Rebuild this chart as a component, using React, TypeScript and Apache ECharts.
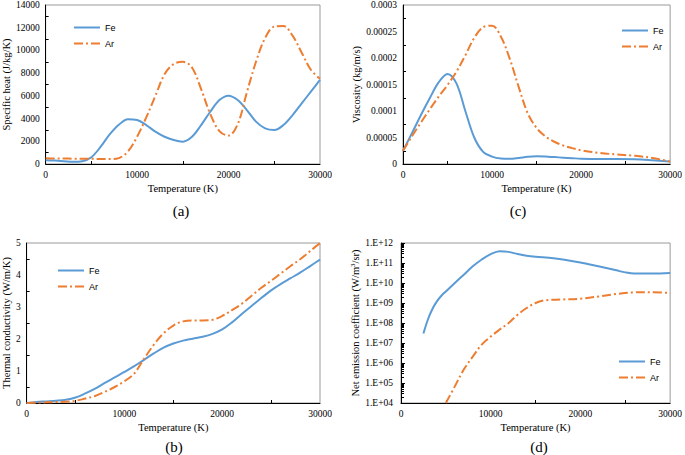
import React, { useEffect, useRef } from "react";
import * as echarts from "echarts";

// ---------- data ----------
const tGrid = [0, 1000, 2000, 3000, 4000, 5000, 6000, 7000, 8000, 9000, 10000, 11000, 12000, 13000, 14000, 15000, 16000, 17000, 18000, 19000, 20000, 21000, 22000, 23000, 24000, 25000, 26000, 27000, 28000, 29000, 30000];

// (a) specific heat (J/kg/K)
const cpFe = [330, 300, 250, 200, 250, 600, 1500, 2600, 3450, 3950, 3880, 3430, 2850, 2400, 2110, 1970, 2400, 3430, 4600, 5630, 6020, 5630, 4750, 3730, 3140, 2990, 3430, 4310, 5340, 6370, 7400];
const cpAr = [500, 490, 480, 470, 470, 460, 440, 430, 520, 1100, 2400, 4100, 6000, 7900, 8800, 9000, 8500, 6600, 4400, 2900, 2500, 3500, 6300, 9000, 11100, 12100, 12150, 11300, 9800, 8300, 7500];

// (b) thermal conductivity (W/m/K)
const kFe = [0, 0.03, 0.05, 0.07, 0.1, 0.17, 0.3, 0.45, 0.63, 0.8, 0.97, 1.15, 1.35, 1.55, 1.73, 1.86, 1.95, 2.01, 2.07, 2.16, 2.3, 2.52, 2.78, 3.03, 3.28, 3.52, 3.72, 3.9, 4.08, 4.28, 4.48];
const kAr = [0, 0.01, 0.02, 0.03, 0.04, 0.07, 0.14, 0.22, 0.35, 0.5, 0.68, 0.92, 1.38, 1.82, 2.18, 2.42, 2.55, 2.58, 2.58, 2.6, 2.72, 2.9, 3.1, 3.35, 3.6, 3.82, 4.05, 4.28, 4.5, 4.75, 5.0];

// (c) viscosity (kg/m/s)
const viscT = [0, 1000, 2000, 3000, 4000, 5000, 6000, 7000, 8000, 9000, 10000, 11000, 12000, 13000, 14000, 15000, 16000, 17000, 18000, 19000, 20000, 22000, 24000, 26000, 28000, 30000];
const muFe = [2.5e-5, 5.8e-5, 9.2e-5, 1.24e-4, 1.54e-4, 1.7e-4, 1.52e-4, 1.0e-4, 5.0e-5, 2.3e-5, 1.4e-5, 1.05e-5, 1.0e-5, 1.15e-5, 1.35e-5, 1.45e-5, 1.4e-5, 1.3e-5, 1.2e-5, 1.1e-5, 1.0e-5, 9.5e-6, 9.5e-6, 9.0e-6, 7.0e-6, 4.5e-6];
const muAr = [2.5e-5, 5.2e-5, 7.8e-5, 1.03e-4, 1.27e-4, 1.49e-4, 1.74e-4, 2.05e-4, 2.38e-4, 2.58e-4, 2.61e-4, 2.4e-4, 1.98e-4, 1.45e-4, 9.6e-5, 6.8e-5, 5.2e-5, 4.2e-5, 3.5e-5, 3.0e-5, 2.6e-5, 2.1e-5, 1.8e-5, 1.55e-5, 1.15e-5, 4.5e-6];

// (d) net emission coefficient (W/m3/sr)
const necFeT = [2500, 3000, 3500, 4000, 4500, 5000, 6000, 7000, 8000, 9000, 10000, 11000, 12000, 13000, 14000, 15000, 17000, 20000, 22000, 24000, 25000, 26000, 28000, 30000];
const necFe = [3e7, 1.5e8, 5e8, 1.2e9, 2.3e9, 3.8e9, 1e10, 2.6e10, 6.8e10, 1.5e11, 2.8e11, 3.9e11, 3.6e11, 2.8e11, 2.3e11, 2.05e11, 1.75e11, 1.07e11, 6.8e10, 4.3e10, 3.4e10, 3.0e10, 3.0e10, 3.2e10];
const necArT = [5000, 6000, 7000, 8000, 9000, 10000, 11000, 12000, 13000, 14000, 15000, 16000, 18000, 20000, 22000, 24000, 26000, 28000, 30000];
const necAr = [1e4, 6.8e4, 4.7e5, 2.1e6, 8.3e6, 2.1e7, 4.7e7, 1e8, 2.6e8, 5.6e8, 1e9, 1.35e9, 1.5e9, 1.65e9, 2.1e9, 2.8e9, 3.4e9, 3.4e9, 3.2e9];

const xTicks = { min: 0, max: 30000, interval: 10000 };
const panelLabels = ["(a)", "(b)", "(c)", "(d)"];
const seriesNames = ["Fe", "Ar"];

// ---------- styling ----------
const SERIF = "Liberation Serif";
const SANS = "Liberation Sans";
const BLUE = "#5B9BD5";
const ORANGE = "#ED7D31";
const AR_DASH = [9, 3, 2, 3];

const zip = (xs: number[], ys: number[]) => xs.map((x, i) => [x, ys[i]]);
const plain = (v: number) => String(parseFloat(Number(v).toPrecision(6)));

export default function App() {
  const ref = useRef<HTMLDivElement>(null);

  useEffect(() => {
    if (!ref.current) return;
    const chart = echarts.init(ref.current, undefined, { renderer: "svg" });

    const grids = [
      { left: 43, top: 5, width: 277, height: 159 },
      { left: 25, top: 243, width: 295, height: 160 },
      { left: 403, top: 5, width: 270, height: 159 },
      { left: 401, top: 243, width: 272, height: 160 },
    ];

    const labelStyle = { fontFamily: SERIF, fontSize: 9.5, color: "#000", margin: 6, formatter: plain };

    const baseX = (i: number) => ({
      type: "value",
      gridIndex: i,
      ...xTicks,
      name: "Temperature (K)",
      nameLocation: "middle",
      nameGap: 19,
      nameTextStyle: { fontFamily: SERIF, fontSize: 10.5, color: "#000" },
      axisLine: { show: true, lineStyle: { color: "#000", width: 1 } },
      axisTick: { show: false, inside: true },
      minorTick: { show: true, splitNumber: 2, length: 3, lineStyle: { color: "#000" } },
      axisLabel: labelStyle,
      splitLine: { show: false },
      minorSplitLine: { show: false },
    });

    const baseY = (i: number, name: any, gap: number) => ({
      gridIndex: i,
      name,
      nameLocation: "middle",
      nameGap: gap,
      nameTextStyle: {
        fontFamily: SERIF,
        fontSize: 10.5,
        color: "#000",
        rich: { sup: { fontFamily: SERIF, fontSize: 7, color: "#000", verticalAlign: "top", padding: [0, 0, 5, 0] } },
      },
      axisLine: { show: true, lineStyle: { color: "#000", width: 1 } },
      axisTick: { show: false, inside: true },
      minorTick: { show: true, splitNumber: 2, length: 3, lineStyle: { color: "#000" } },
      axisLabel: labelStyle,
      splitLine: { show: false },
      minorSplitLine: { show: false },
    });

    const yAxis = [
      { ...baseY(0, "Specific heat (J/kg/K)", 32), type: "value", min: 0, max: 14000, interval: 2000 },
      { ...baseY(1, "Thermal conductivity (W/m/K)", 13), type: "value", min: 0, max: 5, interval: 1 },
      { ...baseY(2, "Viscosity (kg/m/s)", 40), type: "value", min: 0, max: 0.0003, interval: 0.00005 },
      {
        ...baseY(3, "Net emission coefficient (W/m{sup|3}/sr)", 38),
        type: "log",
        logBase: 10,
        min: 1e4,
        max: 1e12,
        splitNumber: 8,
        axisTick: { show: true, inside: true, length: 4, lineStyle: { color: "#000" } },
        minorTick: { show: true, splitNumber: 9, length: 3, lineStyle: { color: "#000" } },
        axisLabel: {
          ...labelStyle,
          margin: 8,
          formatter: (v: number) => "1.E+" + String(Math.round(Math.log10(v))).padStart(2, "0"),
        },
      },
    ];

    const mkSeries = (name: string, gi: number, data: number[][]) => ({
      name,
      type: "line",
      xAxisIndex: gi,
      yAxisIndex: gi,
      data,
      symbol: "none",
      smooth: 0.35,
      clip: true,
      lineStyle:
        name === "Fe"
          ? { color: BLUE, width: 2, type: "solid" }
          : { color: ORANGE, width: 2, type: AR_DASH },
      itemStyle: { color: name === "Fe" ? BLUE : ORANGE },
    });

    const series = [
      mkSeries("Fe", 0, zip(tGrid, cpFe)),
      mkSeries("Ar", 0, zip(tGrid, cpAr)),
      mkSeries("Fe", 1, zip(tGrid, kFe)),
      mkSeries("Ar", 1, zip(tGrid, kAr)),
      mkSeries("Fe", 2, zip(viscT, muFe)),
      mkSeries("Ar", 2, zip(viscT, muAr)),
      mkSeries("Fe", 3, zip(necFeT, necFe)),
      mkSeries("Ar", 3, zip(necArT, necAr)),
    ];

    const legendPos = [
      { left: 68, top: 18 },
      { left: 52, top: 261 },
      { left: 616, top: 21 },
      { left: 613, top: 352 },
    ];
    const legend = legendPos.map((p) => ({
      ...p,
      orient: "vertical",
      itemWidth: 26,
      itemHeight: 10,
      itemGap: 7,
      data: seriesNames,
      selectedMode: false,
      itemStyle: { opacity: 0 },
      textStyle: { fontFamily: SANS, fontSize: 9, color: "#000" },
    }));

    const labelPos = [
      [181, 211],
      [174, 447],
      [518, 211],
      [539, 447],
    ];
    const graphic = panelLabels.map((t, i) => ({
      type: "text",
      x: labelPos[i][0],
      y: labelPos[i][1],
      style: {
        text: t,
        fontFamily: SERIF,
        fontSize: 15,
        fill: "#000",
        align: "center",
        verticalAlign: "middle",
      },
    }));

    chart.setOption({
      animation: false,
      backgroundColor: "#fff",
      grid: grids.map((g) => ({ ...g, show: true, borderColor: "#999", borderWidth: 1, backgroundColor: "transparent" })),
      xAxis: [0, 1, 2, 3].map(baseX),
      yAxis,
      legend,
      series,
      graphic,
    } as any);

    return () => chart.dispose();
  }, []);

  return <div ref={ref} style={{ position: "absolute", left: 0, top: 0, width: 685, height: 455 }} />;
}
